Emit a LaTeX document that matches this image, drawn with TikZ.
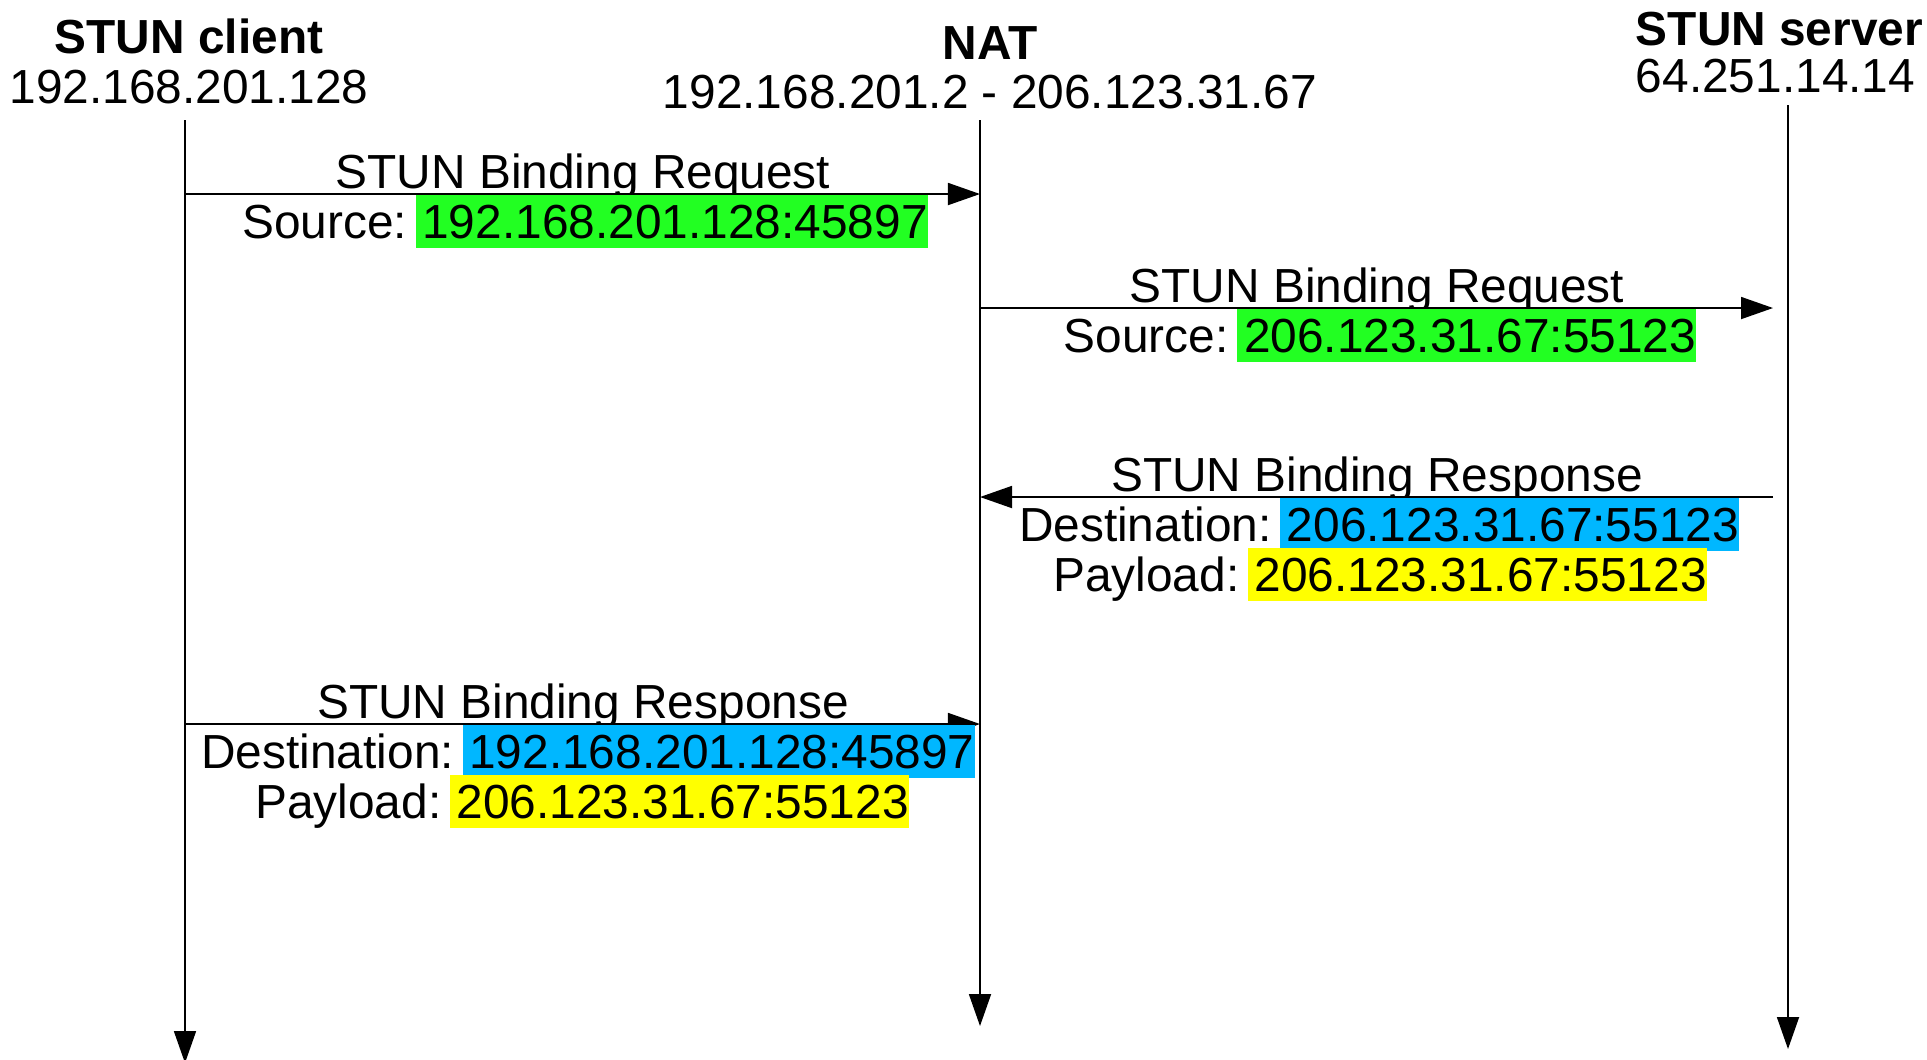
\documentclass[tikz,border=0pt]{standalone}
\usepackage{fontspec}
\setmainfont{Liberation Sans}
\usetikzlibrary{arrows.meta}
\definecolor{verde}{HTML}{22FF22}
\definecolor{azzurro}{HTML}{00B7FF}
\definecolor{giallo}{HTML}{FFFF00}
\newcommand{\evidenzia}[2]{\hspace{0.18em}{\setlength{\fboxsep}{0pt}\colorbox{#1}{\rule[-0.212em]{0pt}{1.117em}\hspace{0.14em}#2}}}

\begin{document}
\begin{tikzpicture}[x=0.01cm, y=-0.01cm, line width=0.5pt]
	% Stili per testi e frecce di questo diagramma
	\tikzset{testo/.style={font=\fontsize{13.6}{16}\selectfont, inner sep=0pt, anchor=base},
		titolo/.style={testo, font=\fontsize{13.6}{16}\selectfont\bfseries},
		freccia/.style={-{Triangle[length=0.32cm, width=0.22cm]}}}
	\useasboundingbox (0,0) rectangle (1927,1059);
	
	% Intestazioni dei partecipanti
	\node[titolo] (client) at (189,53) {STUN client};
	\node[testo] (clientIP) at (189,103) {192.168.201.128};
	\node[titolo] (nat) at (990,59) {NAT};
	\node[testo] (natIP) at (990,108) {192.168.201.2 - 206.123.31.67};
	\node[titolo, anchor=base west] (server) at (1635,45) {STUN server};
	\node[testo, anchor=base west] (serverIP) at (1635,92) {64.251.14.14};
	
	% Linee temporali
	\coordinate (clientTop) at (185,120);
	\coordinate (clientBot) at (185,1063);
	\coordinate (natTop) at (980,120);
	\coordinate (natBot) at (980,1026);
	\coordinate (serverTop) at (1788,105);
	\coordinate (serverBot) at (1788,1049);
	\draw[freccia] (clientTop) -- (clientBot);
	\draw[freccia] (natTop) -- (natBot);
	\draw[freccia] (serverTop) -- (serverBot);
	
	% Messaggio 1: client -> NAT
	\coordinate (c1) at (185,194);
	\coordinate (n1) at (980,194);
	\draw[freccia] (c1) -- (n1);
	\node[testo] (m1a) at (583,188) {STUN Binding Request};
	\node[testo] (m1b) at (585,238) {Source:\evidenzia{verde}{192.168.201.128:45897}};
	
	% Messaggio 2: NAT -> server
	\coordinate (n2) at (980,308);
	\coordinate (s2) at (1773,308);
	\draw[freccia] (n2) -- (s2);
	\node[testo] (m2a) at (1377,302) {STUN Binding Request};
	\node[testo] (m2b) at (1380,352) {Source:\evidenzia{verde}{206.123.31.67:55123}};
	
	% Messaggio 3: server -> NAT
	\coordinate (s3) at (1773,497);
	\coordinate (n3) at (980,497);
	\draw[freccia] (s3) -- (n3);
	\node[testo] (m3a) at (1377,491) {STUN Binding Response};
	\node[testo] (m3b) at (1379,541) {Destination:\evidenzia{azzurro}{206.123.31.67:55123}};
	\node[testo] (m3c) at (1380,591) {Payload:\evidenzia{giallo}{206.123.31.67:55123}};
	
	% Messaggio 4: client -> NAT
	\coordinate (c4) at (185,724);
	\coordinate (n4) at (980,724);
	\draw[freccia] (c4) -- (n4);
	\node[testo] (m4a) at (583,718) {STUN Binding Response};
	\node[testo] (m4b) at (588,768) {Destination:\evidenzia{azzurro}{192.168.201.128:45897}};
	\node[testo] (m4c) at (582,818) {Payload:\evidenzia{giallo}{206.123.31.67:55123}};
\end{tikzpicture}
\end{document}
